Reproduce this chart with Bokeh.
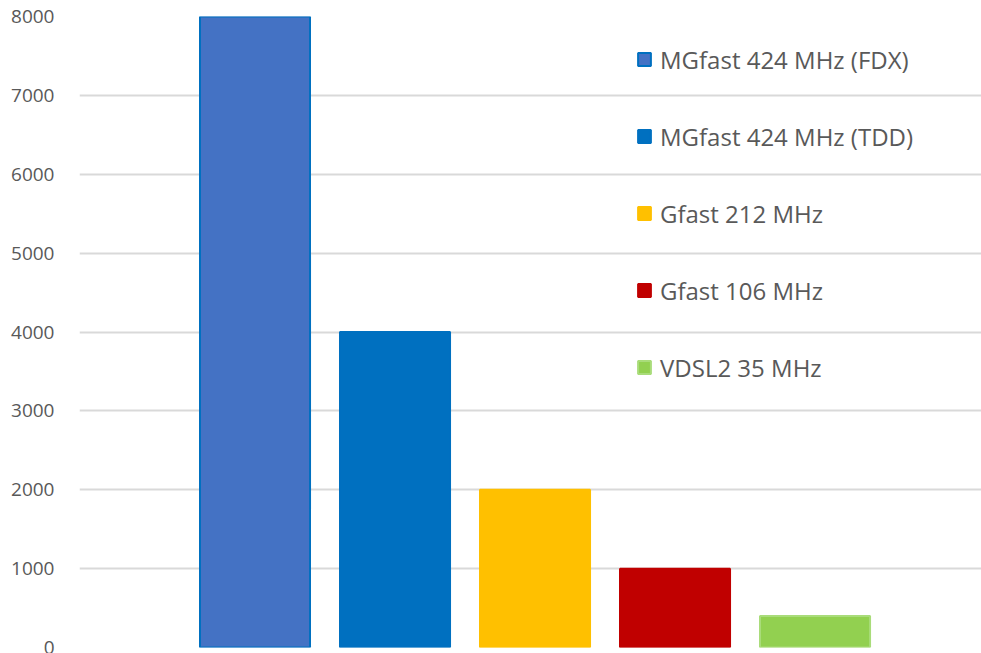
from bokeh.plotting import figure
from bokeh.models import ColumnDataSource, Range1d, Legend, LegendItem, SingleIntervalTicker
from bokeh.embed import file_html
from bokeh.resources import INLINE

categories = ["MGfast 424 MHz (FDX)", "MGfast 424 MHz (TDD)", "Gfast 212 MHz",
              "Gfast 106 MHz", "VDSL2 35 MHz"]
values = [8000, 4000, 2000, 1000, 400]
fill_colors = ["#4472C4", "#0070C0", "#FFC000", "#C00000", "#92D050"]
line_colors = ["#0070C0", "#0070C0", "#FFC000", "#C00000", "#A9DC7A"]

src = ColumnDataSource(dict(x=list(range(len(categories))), top=values, label=categories,
                            fill=fill_colors, line=line_colors))

p = figure(width=981, height=653, output_backend="svg", toolbar_location=None,
           x_range=Range1d(-1.2536, 5.189), y_range=Range1d(0, 8000),
           min_border_left=79, min_border_right=0, min_border_top=16, min_border_bottom=6)
p.outline_line_color = None
p.background_fill_color = "white"

r = p.vbar(x="x", top="top", width=0.786, source=src, fill_color="fill",
           line_color="line", line_width=2)

p.xaxis.visible = False
p.xgrid.visible = False
p.yaxis.ticker = SingleIntervalTicker(interval=1000)
p.yaxis.axis_line_color = None
p.yaxis.major_tick_line_color = None
p.yaxis.minor_tick_line_color = None
p.yaxis.major_label_standoff = 19
p.yaxis.major_label_text_font = "Open Sans"
p.yaxis.major_label_text_font_size = "19px"
p.yaxis.major_label_text_color = "#595959"
p.ygrid.grid_line_color = "#d9d9d9"
p.ygrid.grid_line_width = 2

items = [LegendItem(label=c, renderers=[r], index=i) for i, c in enumerate(categories)]
legend = Legend(items=items, location=(557, 263), orientation="vertical",
                border_line_color=None, background_fill_alpha=0,
                padding=0, margin=0, spacing=43, label_height=34,
                glyph_width=16, glyph_height=16, label_standoff=8,
                label_text_font="Open Sans", label_text_font_size="24px",
                label_text_color="#595959")
p.add_layout(legend)

open("out.html", "w").write(file_html(p, INLINE))
